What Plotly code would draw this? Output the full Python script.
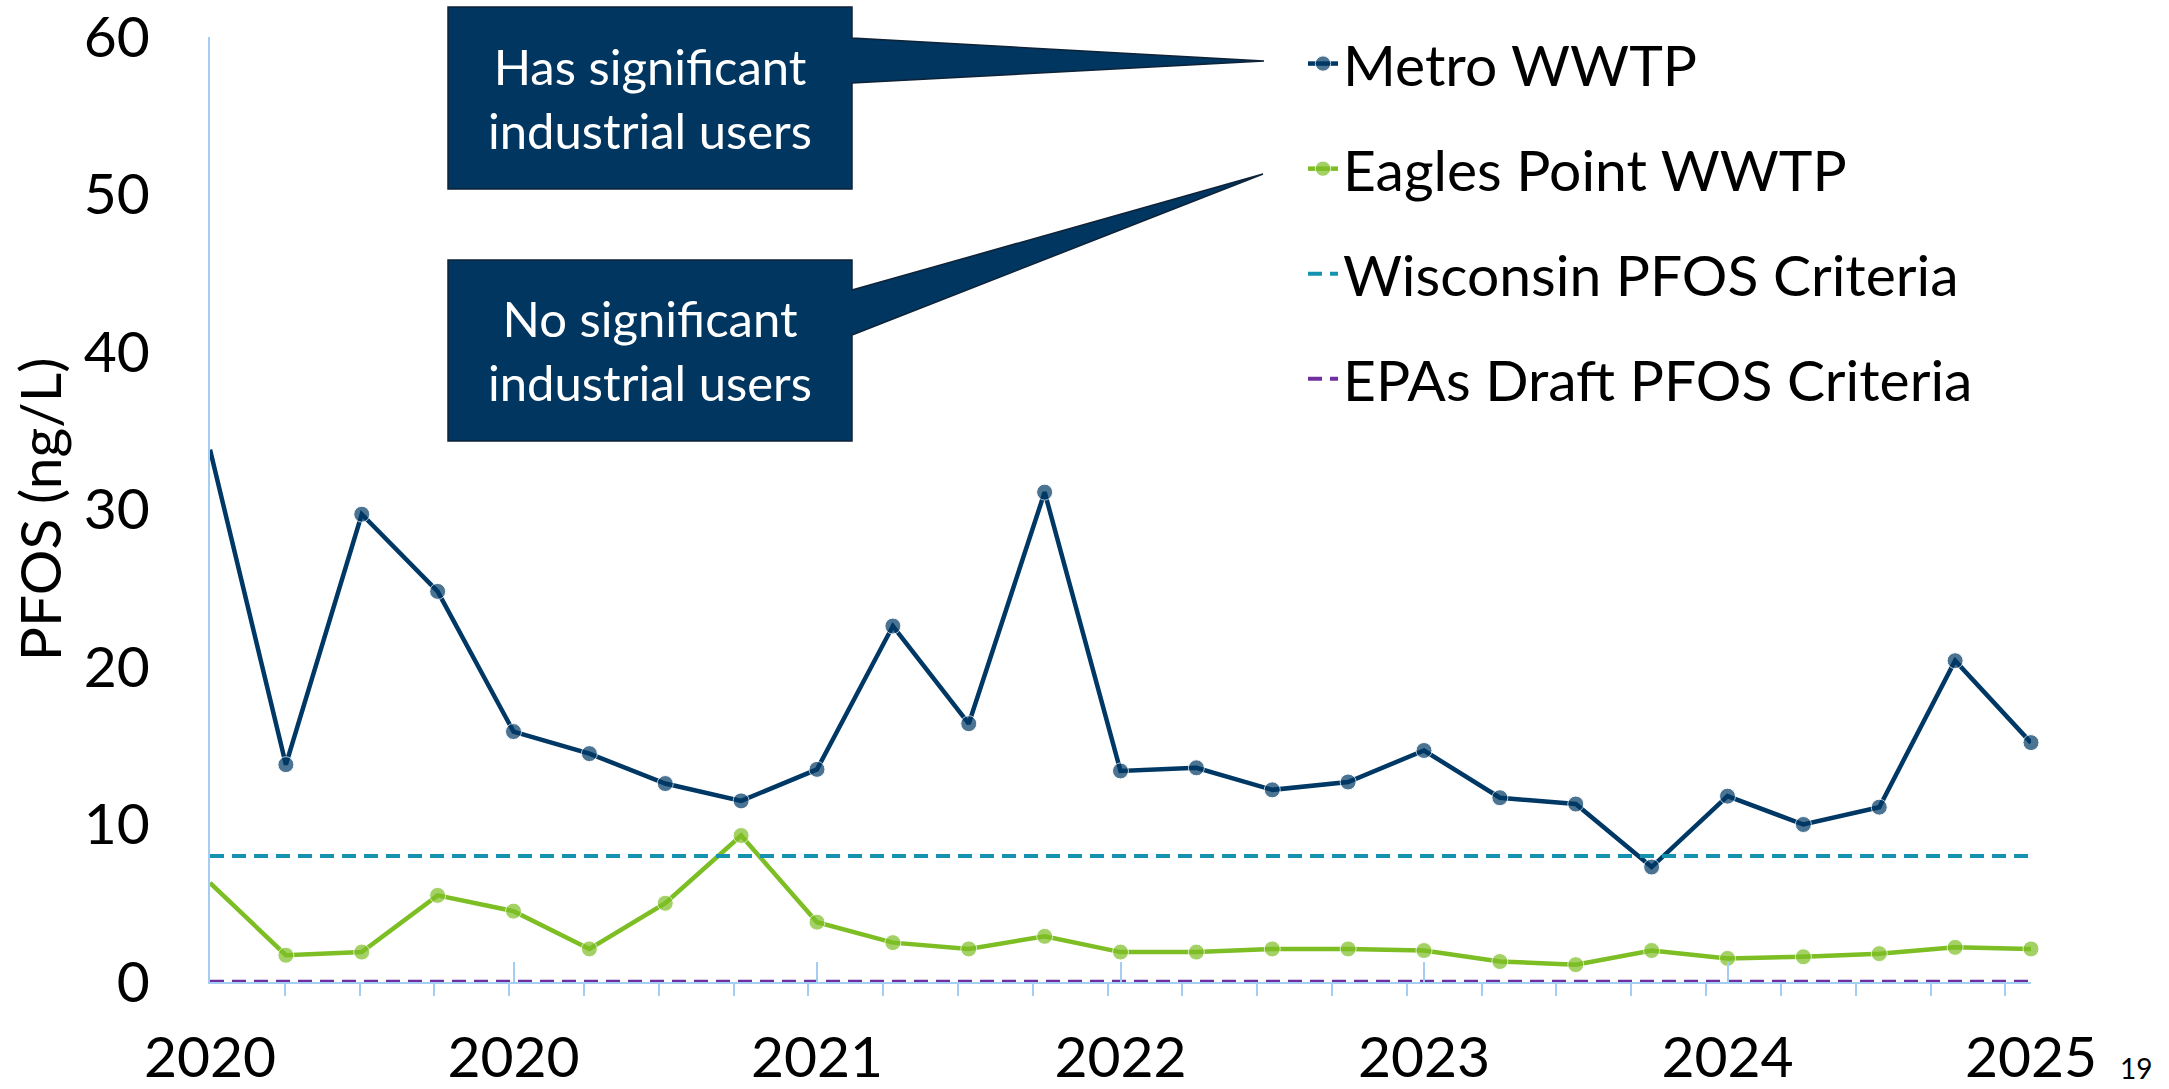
import plotly.graph_objects as go

# ---------------- data ----------------
quarter_index = list(range(25))
year_tick_positions = [0, 4, 8, 12, 16, 20, 24]
year_tick_labels = ["2020", "2020", "2021", "2022", "2023", "2024", "2025"]

metro_wwtp = [33.8, 13.8, 29.7, 24.8, 15.9, 14.5, 12.6, 11.5, 13.5, 22.6,
              16.4, 31.1, 13.4, 13.6, 12.2, 12.7, 14.7, 11.7, 11.3, 7.3,
              11.8, 10.0, 11.1, 20.4, 15.2]
eagles_point_wwtp = [6.3, 1.7, 1.9, 5.5, 4.5, 2.1, 5.0, 9.3, 3.8, 2.5,
                     2.1, 2.9, 1.9, 1.9, 2.1, 2.1, 2.0, 1.3, 1.1, 2.0,
                     1.5, 1.6, 1.8, 2.2, 2.1]
wisconsin_pfos_criteria = 8.0
epa_draft_pfos_criteria = 0.02

y_tick_values = [0, 10, 20, 30, 40, 50, 60]

# ---------------- style ----------------
FONT = "Lato, 'Open Sans', sans-serif"
FS = 57
NAVY = "#003865"
GREEN = "#7DBE24"
TEAL = "#1592B0"
PURPLE = "#7030A0"
AXIS_BLUE = "#A3CDF2"
BOX_FILL = "#00365F"

W, H = 2169, 1089
L, R, T, B = 210, 138, 37, 107
plot_w = W - L - R
plot_h = H - T - B


def px_x(px):
    return (px - L) / plot_w


def px_y(py):
    return (H - B - py) / plot_h


marker_sizes = [0] + [16] * (len(quarter_index) - 1)

fig = go.Figure()

fig.add_trace(go.Scatter(
    x=quarter_index, y=metro_wwtp, name="Metro WWTP", mode="lines+markers",
    line=dict(color=NAVY, width=4.5), marker=dict(color=NAVY, size=marker_sizes),
    cliponaxis=False, legendgroup="a"))
fig.add_trace(go.Scatter(
    x=quarter_index, y=eagles_point_wwtp, name="Eagles Point WWTP", mode="lines+markers",
    line=dict(color=GREEN, width=4.5), marker=dict(color=GREEN, size=marker_sizes),
    cliponaxis=False, legendgroup="b"))
fig.add_trace(go.Scatter(
    x=quarter_index, y=[wisconsin_pfos_criteria] * len(quarter_index),
    name="Wisconsin PFOS Criteria", mode="lines",
    line=dict(color=TEAL, width=4, dash="14px,8px"), legendgroup="c"))
fig.add_trace(go.Scatter(
    x=quarter_index, y=[epa_draft_pfos_criteria] * len(quarter_index),
    name="EPAs Draft PFOS Criteria", mode="lines",
    line=dict(color=PURPLE, width=4, dash="14px,8px"), legendgroup="d",
    cliponaxis=False))


# callout boxes with pointers (paper coordinates)
def callout(box, base, tip):
    x0, y0, x1, y1 = box
    b0, b1 = base
    tx, ty = tip
    pts = [(x0, y0), (x1, y0), (x1, b0), (tx, ty), (x1, b1), (x1, y1), (x0, y1)]
    path = "M " + " L ".join(f"{px_x(a):.5f},{px_y(b):.5f}" for a, b in pts) + " Z"
    fig.add_shape(type="path", path=path, xref="paper", yref="paper",
                  fillcolor=BOX_FILL, line=dict(color="#0E2238", width=1.5), layer="above")


callout((448, 7, 852, 189), (38, 83), (1264, 61))
callout((448, 260, 852, 441), (290, 335), (1263, 174))

for text, cy in [("Has significant<br>industrial users", 98),
                 ("No significant<br>industrial users", 350)]:
    fig.add_annotation(x=px_x(650), y=px_y(cy), xref="paper", yref="paper",
                       xanchor="center", yanchor="middle",
                       text=text, showarrow=False,
                       font=dict(family=FONT, size=49, color="white"), align="center")

fig.add_annotation(x=px_x(2136), y=px_y(1068), xref="paper", yref="paper",
                   xanchor="center", yanchor="middle",
                   text="19", showarrow=False,
                   font=dict(family=FONT, size=28, color="black"))

fig.update_layout(
    width=W, height=H,
    margin=dict(l=L, r=R, t=T, b=B, autoexpand=False),
    paper_bgcolor="white", plot_bgcolor="white",
    font=dict(family=FONT, size=FS, color="black"),
    showlegend=True,
    legend=dict(x=px_x(1303), y=px_y(20), xanchor="left", yanchor="top",
                bgcolor="rgba(0,0,0,0)", font=dict(family=FONT, size=FS, color="black"),
                tracegroupgap=28, traceorder="grouped"),
    xaxis=dict(range=[0, 24], tickmode="array", tickvals=year_tick_positions,
               ticktext=year_tick_labels, ticks="inside", ticklen=20, tickwidth=1.5,
               tickcolor=AXIS_BLUE, showline=True, linecolor=AXIS_BLUE, linewidth=1.5,
               showgrid=False, zeroline=False, ticklabelstandoff=25,
               automargin=False, ticklabeloverflow="allow",
               minor=dict(tickmode="linear", tick0=0, dtick=0.9859, ticks="outside",
                          ticklen=12, tickwidth=1.5, tickcolor=AXIS_BLUE, showgrid=False),
               tickfont=dict(family=FONT, size=FS, color="black")),
    yaxis=dict(range=[0, 60], tickmode="array", tickvals=y_tick_values,
               ticks="", showline=True, linecolor=AXIS_BLUE, linewidth=1.5,
               showgrid=False, zeroline=False, ticklabelstandoff=47,
               automargin=False, ticklabeloverflow="allow",
               tickfont=dict(family=FONT, size=FS, color="black"),
               title=dict(text="PFOS (ng/L)", standoff=4,
                          font=dict(family=FONT, size=FS, color="black"))),
)

fig.write_html("out.html",
               config={"displayModeBar": False},
               post_script="document.body.style.margin='0';document.body.style.overflow='hidden';")
